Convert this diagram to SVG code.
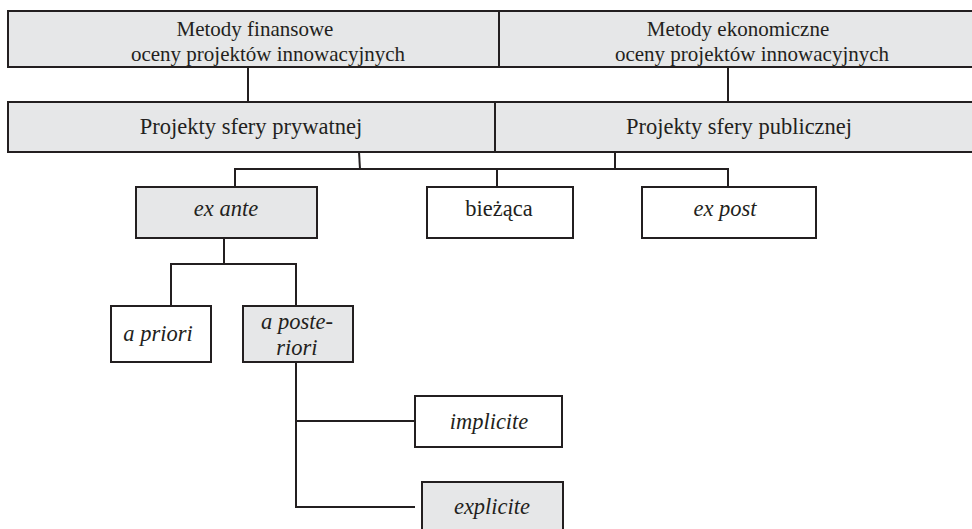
<svg xmlns="http://www.w3.org/2000/svg" width="972" height="529" viewBox="0 0 972 529">
<style>
.box{stroke:#231f20;stroke-width:2;}
.g{fill:#e6e7e8;}
.w{fill:#ffffff;}
.t{font-family:"Liberation Serif","Times New Roman",serif;font-size:22.5px;fill:#231f20;text-anchor:middle;}
.h{font-size:21px;}
.i{font-style:italic;}
.c{stroke:#231f20;stroke-width:2;fill:none;}
</style>
<rect width="972" height="529" fill="#ffffff"/>
<g id="connectors">
<line class="c" x1="248" y1="67" x2="248" y2="102"/>
<line class="c" x1="728" y1="67" x2="728" y2="102"/>
<polyline class="c" points="235,187 235,169 728,169 728,187"/>
<line class="c" x1="359" y1="152" x2="360" y2="169"/>
<line class="c" x1="615" y1="152" x2="615" y2="169"/>
<line class="c" x1="497" y1="169" x2="497" y2="187"/>
<line class="c" x1="224" y1="238" x2="224" y2="264"/>
<polyline class="c" points="171,306 171,264 296,264 296,306"/>
<polyline class="c" points="296,362 296,507 415,507"/>
<line class="c" x1="296" y1="421" x2="415" y2="421"/>
</g>
<g id="n-fin">
<rect class="box g" x="8" y="11" width="491" height="56"/>
<text class="t h" x="255" y="36">Metody finansowe</text>
<text class="t h" x="268" y="61">oceny projektów innowacyjnych</text>
</g>
<g id="n-eko">
<rect class="box g" x="499" y="11" width="480" height="56"/>
<text class="t h" x="738" y="36">Metody ekonomiczne</text>
<text class="t h" x="752" y="61">oceny projektów innowacyjnych</text>
</g>
<g id="n-pryw">
<rect class="box g" x="8" y="102" width="487" height="50"/>
<text class="t" x="251" y="134">Projekty sfery prywatnej</text>
</g>
<g id="n-publ">
<rect class="box g" x="495" y="102" width="484" height="50"/>
<text class="t" x="739" y="134">Projekty sfery publicznej</text>
</g>
<g id="n-exante">
<rect class="box g" x="136" y="187" width="181" height="51"/>
<text class="t i" x="226" y="216">ex ante</text>
</g>
<g id="n-biez">
<rect class="box w" x="427" y="187" width="146" height="51"/>
<text class="t" x="499" y="216">bieżąca</text>
</g>
<g id="n-expost">
<rect class="box w" x="642" y="187" width="174" height="51"/>
<text class="t i" x="725" y="216">ex post</text>
</g>
<g id="n-apriori">
<rect class="box w" x="111" y="306" width="100" height="56"/>
<text class="t i" x="158" y="341">a priori</text>
</g>
<g id="n-aposteriori">
<rect class="box g" x="243" y="306" width="110" height="56"/>
<text class="t i" x="297" y="329">a poste-</text>
<text class="t i" x="297" y="355">riori</text>
</g>
<g id="n-implicite">
<rect class="box w" x="415" y="396" width="147" height="51"/>
<text class="t i" x="489" y="429">implicite</text>
</g>
<g id="n-explicite">
<rect class="box g" x="422" y="482" width="141" height="60"/>
<text class="t i" x="492" y="514">explicite</text>
</g>
</svg>
